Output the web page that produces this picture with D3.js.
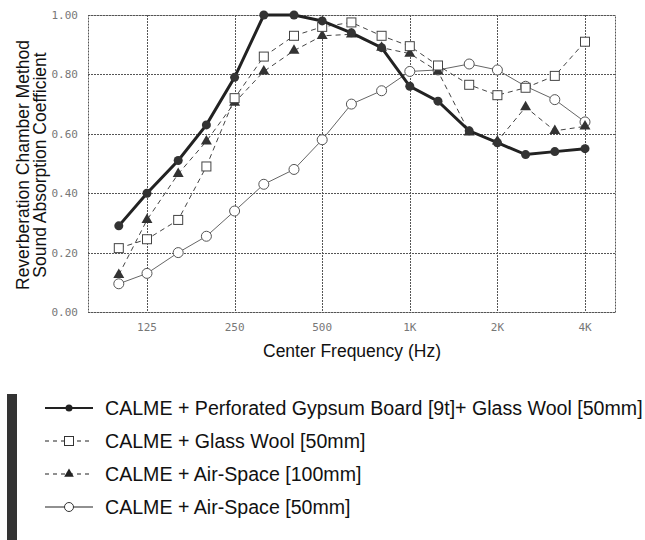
<!DOCTYPE html>
<html>
<head>
<meta charset="utf-8">
<script src="https://cdn.jsdelivr.net/npm/d3@7"></script>
<style>
  body { margin: 0; background: #fff; }
  svg { display: block; }
</style>
</head>
<body>
<div id="chart"></div>
<script>
// band centre frequencies (Hz)
var freqs = [100, 125, 160, 200, 250, 315, 400, 500, 630, 800, 1000, 1250, 1600, 2000, 2500, 3150, 4000];
var xTicks = [125, 250, 500, 1000, 2000, 4000];
var xTickLabels = ["125", "250", "500", "1K", "2K", "4K"];
var yTicks = [0, 0.2, 0.4, 0.6, 0.8, 1.0];

// absorption coefficients
var gypsumWool = [0.29, 0.40, 0.51, 0.63, 0.79, 1.00, 1.00, 0.98, 0.94, 0.89, 0.76, 0.71, 0.61, 0.57, 0.53, 0.54, 0.55];
var glassWool  = [0.215, 0.245, 0.31, 0.49, 0.72, 0.86, 0.93, 0.96, 0.975, 0.93, 0.895, 0.83, 0.765, 0.73, 0.755, 0.795, 0.91];
var air100     = [0.125, 0.31, 0.465, 0.575, 0.705, 0.81, 0.88, 0.93, 0.935, 0.89, 0.87, 0.81, 0.605, 0.575, 0.69, 0.61, 0.625];
var air50      = [0.095, 0.13, 0.20, 0.255, 0.34, 0.43, 0.48, 0.58, 0.70, 0.745, 0.81, 0.815, 0.835, 0.815, 0.76, 0.715, 0.64];

var legendLabels = [
  "CALME + Perforated Gypsum Board [9t]+ Glass Wool [50mm]",
  "CALME + Glass Wool [50mm]",
  "CALME + Air-Space [100mm]",
  "CALME + Air-Space [50mm]"
];

var W = 645, H = 540;
var plotL = 88, plotR = 615, plotT = 15, plotB = 312;

var svg = d3.select("#chart").append("svg").attr("width", W).attr("height", H);

var x = d3.scaleLog().domain([125, 4000]).range([147, 585]);
var y = d3.scaleLinear().domain([0, 1]).range([plotB, plotT]);

// grid + frame
var grid = svg.append("g").attr("stroke", "#555").attr("stroke-width", 1)
  .attr("stroke-dasharray", "2,1").attr("fill", "none");
grid.selectAll("line.h").data(yTicks).enter().append("line")
  .attr("x1", plotL).attr("x2", plotR)
  .attr("y1", function (d) { return Math.round(y(d)) + 0.5; })
  .attr("y2", function (d) { return Math.round(y(d)) + 0.5; });
grid.selectAll("line.v").data(xTicks).enter().append("line")
  .attr("y1", plotT).attr("y2", plotB)
  .attr("x1", function (d) { return Math.round(x(d)) + 0.5; })
  .attr("x2", function (d) { return Math.round(x(d)) + 0.5; });
grid.append("rect").attr("x", plotL + 0.5).attr("y", plotT + 0.5)
  .attr("width", plotR - plotL).attr("height", plotB - plotT);

// tick labels
var tickFont = "'DejaVu Sans Mono', monospace";
svg.selectAll("text.yt").data(yTicks).enter().append("text")
  .attr("x", 78).attr("y", function (d) { return y(d) + 4; })
  .attr("text-anchor", "end").attr("font-family", tickFont).attr("font-size", 11)
  .attr("fill", "#777").text(function (d) { return d.toFixed(2); });
svg.selectAll("text.xt").data(xTicks).enter().append("text")
  .attr("x", function (d) { return x(d); }).attr("y", 331)
  .attr("text-anchor", "middle").attr("font-family", tickFont).attr("font-size", 11)
  .attr("fill", "#777").text(function (d, i) { return xTickLabels[i]; });

var titleFont = "'Liberation Sans', Arial, sans-serif";
svg.append("text").attr("x", 352).attr("y", 357).attr("text-anchor", "middle")
  .attr("font-family", titleFont).attr("font-size", 17.5).attr("fill", "#111")
  .text("Center Frequency (Hz)");
var yt = svg.append("text").attr("transform", "translate(0,165) rotate(-90)")
  .attr("text-anchor", "middle").attr("font-family", titleFont).attr("font-size", 17.5).attr("fill", "#111");
yt.append("tspan").attr("x", 0).attr("y", 29).text("Reverberation Chamber Method");
yt.append("tspan").attr("x", 0).attr("y", 46).text("Sound Absorption Coefficient");

// marker drawing
function drawMarker(g, kind, cx, cy) {
  if (kind === "dot") {
    g.append("circle").attr("cx", cx).attr("cy", cy).attr("r", 4.5).attr("fill", "#333");
  } else if (kind === "square") {
    g.append("rect").attr("x", cx - 4.5).attr("y", cy - 4.5).attr("width", 9).attr("height", 9)
      .attr("fill", "#fff").attr("stroke", "#444").attr("stroke-width", 1);
  } else if (kind === "tri") {
    g.append("path").attr("transform", "translate(" + cx + "," + cy + ")")
      .attr("d", d3.symbol(d3.symbolTriangle, 52)()).attr("fill", "#333");
  } else {
    g.append("circle").attr("cx", cx).attr("cy", cy).attr("r", 5)
      .attr("fill", "#fff").attr("stroke", "#555").attr("stroke-width", 1);
  }
}

var series = [
  { values: air50, kind: "open", width: 1, dash: null, color: "#666" },
  { values: air100, kind: "tri", width: 1, dash: "5,4", color: "#444" },
  { values: glassWool, kind: "square", width: 1, dash: "5,4", color: "#444" },
  { values: gypsumWool, kind: "dot", width: 3, dash: null, color: "#222" }
];

var line = d3.line().x(function (d, i) { return x(freqs[i]); }).y(function (d) { return y(d); });

series.forEach(function (s) {
  var g = svg.append("g");
  g.append("path").datum(s.values).attr("d", line).attr("fill", "none")
    .attr("stroke", s.color).attr("stroke-width", s.width)
    .attr("stroke-dasharray", s.dash);
  s.values.forEach(function (v, i) { drawMarker(g, s.kind, x(freqs[i]), y(v)); });
});

// legend
svg.append("rect").attr("x", 7).attr("y", 394).attr("width", 10).attr("height", 146).attr("fill", "#333");
var legendOrder = [series[3], series[2], series[1], series[0]];
var rowY = [408, 441, 474, 507];
legendOrder.forEach(function (s, i) {
  var g = svg.append("g");
  var ly = rowY[i];
  g.append("line").attr("x1", 45).attr("x2", 93).attr("y1", ly).attr("y2", ly)
    .attr("stroke", "#222").attr("stroke-width", s.kind === "dot" ? 2.2 : 1.2)
    .attr("stroke-dasharray", s.dash ? "4,4" : null);
  if (s.kind === "dot") {
    g.append("circle").attr("cx", 69).attr("cy", ly).attr("r", 3.5).attr("fill", "#222");
  } else if (s.kind === "square") {
    g.append("rect").attr("x", 64.5).attr("y", ly - 4.5).attr("width", 9).attr("height", 9)
      .attr("fill", "#fff").attr("stroke", "#333");
  } else if (s.kind === "tri") {
    g.append("path").attr("transform", "translate(69," + ly + ")")
      .attr("d", d3.symbol(d3.symbolTriangle, 40)()).attr("fill", "#222");
  } else {
    g.append("circle").attr("cx", 69).attr("cy", ly).attr("r", 4.5)
      .attr("fill", "#fff").attr("stroke", "#333");
  }
  g.append("text").attr("x", 105).attr("y", ly + 7)
    .attr("font-family", titleFont).attr("font-size", 19.6).attr("fill", "#111")
    .text(legendLabels[i]);
});
</script>
</body>
</html>
